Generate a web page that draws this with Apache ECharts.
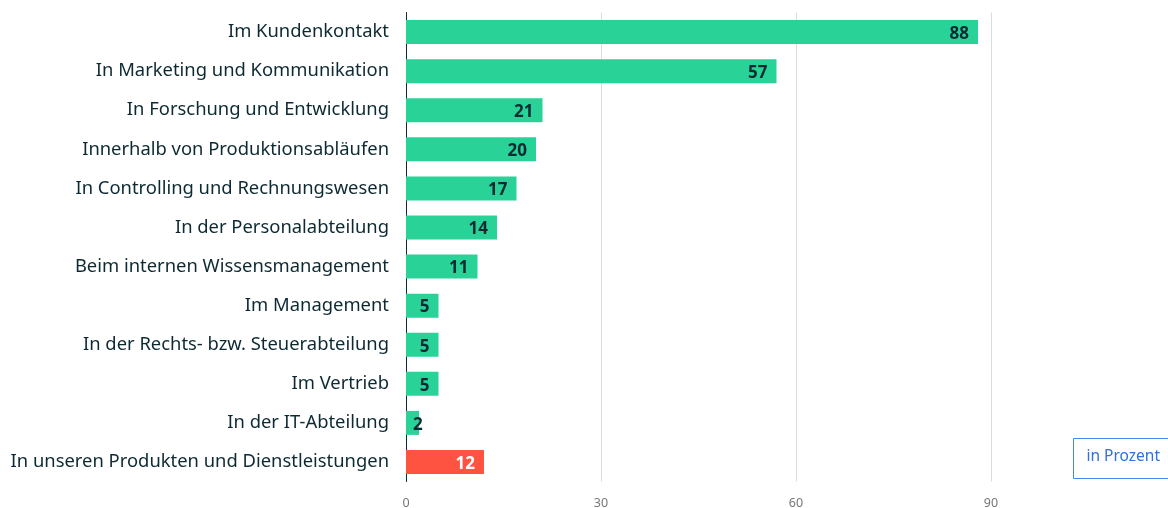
<!DOCTYPE html>
<html>
<head>
<meta charset="utf-8">
<script src="https://cdn.jsdelivr.net/npm/echarts@6/dist/echarts.min.js"></script>
<style>
  html, body { margin: 0; padding: 0; background: #fff; }
  #chart { width: 1168px; height: 508px; }
</style>
</head>
<body>
<div id="chart"></div>
<script>
// Einsatzbereiche, in Prozent
const categories = [
  'Im Kundenkontakt',
  'In Marketing und Kommunikation',
  'In Forschung und Entwicklung',
  'Innerhalb von Produktionsabläufen',
  'In Controlling und Rechnungswesen',
  'In der Personalabteilung',
  'Beim internen Wissensmanagement',
  'Im Management',
  'In der Rechts- bzw. Steuerabteilung',
  'Im Vertrieb',
  'In der IT-Abteilung',
  'In unseren Produkten und Dienstleistungen'
]
const values = [88, 57, 21, 20, 17, 14, 11, 5, 5, 5, 2, 12]
const highlight = [false, false, false, false, false, false, false, false, false, false, false, true]
const xTicks = [0, 30, 60, 90]

const green = '#29d398'
const red = '#ff5341'
const dark = '#0d2a33'

const chart = echarts.init(document.getElementById('chart'))

const data = values.map((v, i) => {
  const item = {
    value: v,
    itemStyle: { color: highlight[i] ? red : green },
    label: { color: highlight[i] ? '#fff' : dark }
  }
  if (v < 4) {
    item.label.position = 'right'
    item.label.distance = -6
  }
  return item
})

chart.setOption({
  animation: false,
  textStyle: { fontFamily: 'Noto Sans' },
  grid: { left: 406, right: 177, top: 12.5, bottom: 26.5, containLabel: false, outerBoundsMode: 'none' },
  xAxis: {
    type: 'value',
    min: xTicks[0],
    max: xTicks[xTicks.length - 1],
    interval: 30,
    axisLine: { show: false },
    axisTick: { show: false },
    splitLine: { lineStyle: { color: '#dcdcdc', width: 1 } },
    axisLabel: { color: '#777', fontSize: 12.5, margin: 15 }
  },
  yAxis: {
    type: 'category',
    data: categories,
    inverse: true,
    axisLine: { lineStyle: { color: dark, width: 1 } },
    axisTick: { show: false },
    axisLabel: { color: dark, fontSize: 18.4, margin: 17 }
  },
  series: [{
    type: 'bar',
    data: data,
    barWidth: 24,
    label: {
      show: true,
      position: 'insideRight',
      distance: 9,
      offset: [0, 2],
      fontSize: 17,
      fontWeight: 'bold',
      formatter: '{c}'
    }
  }],
  graphic: [{
    type: 'group',
    left: 1073,
    top: 438,
    children: [{
      type: 'rect',
      shape: { x: 0, y: 0, width: 100, height: 40 },
      style: { fill: '#fff', stroke: '#4a86f0', lineWidth: 1 }
    }, {
      type: 'text',
      left: 13,
      top: 10,
      style: { text: 'in Prozent', fill: '#2f6fe0', fontSize: 15.5, fontFamily: 'Noto Sans' }
    }]
  }]
})
</script>
</body>
</html>
